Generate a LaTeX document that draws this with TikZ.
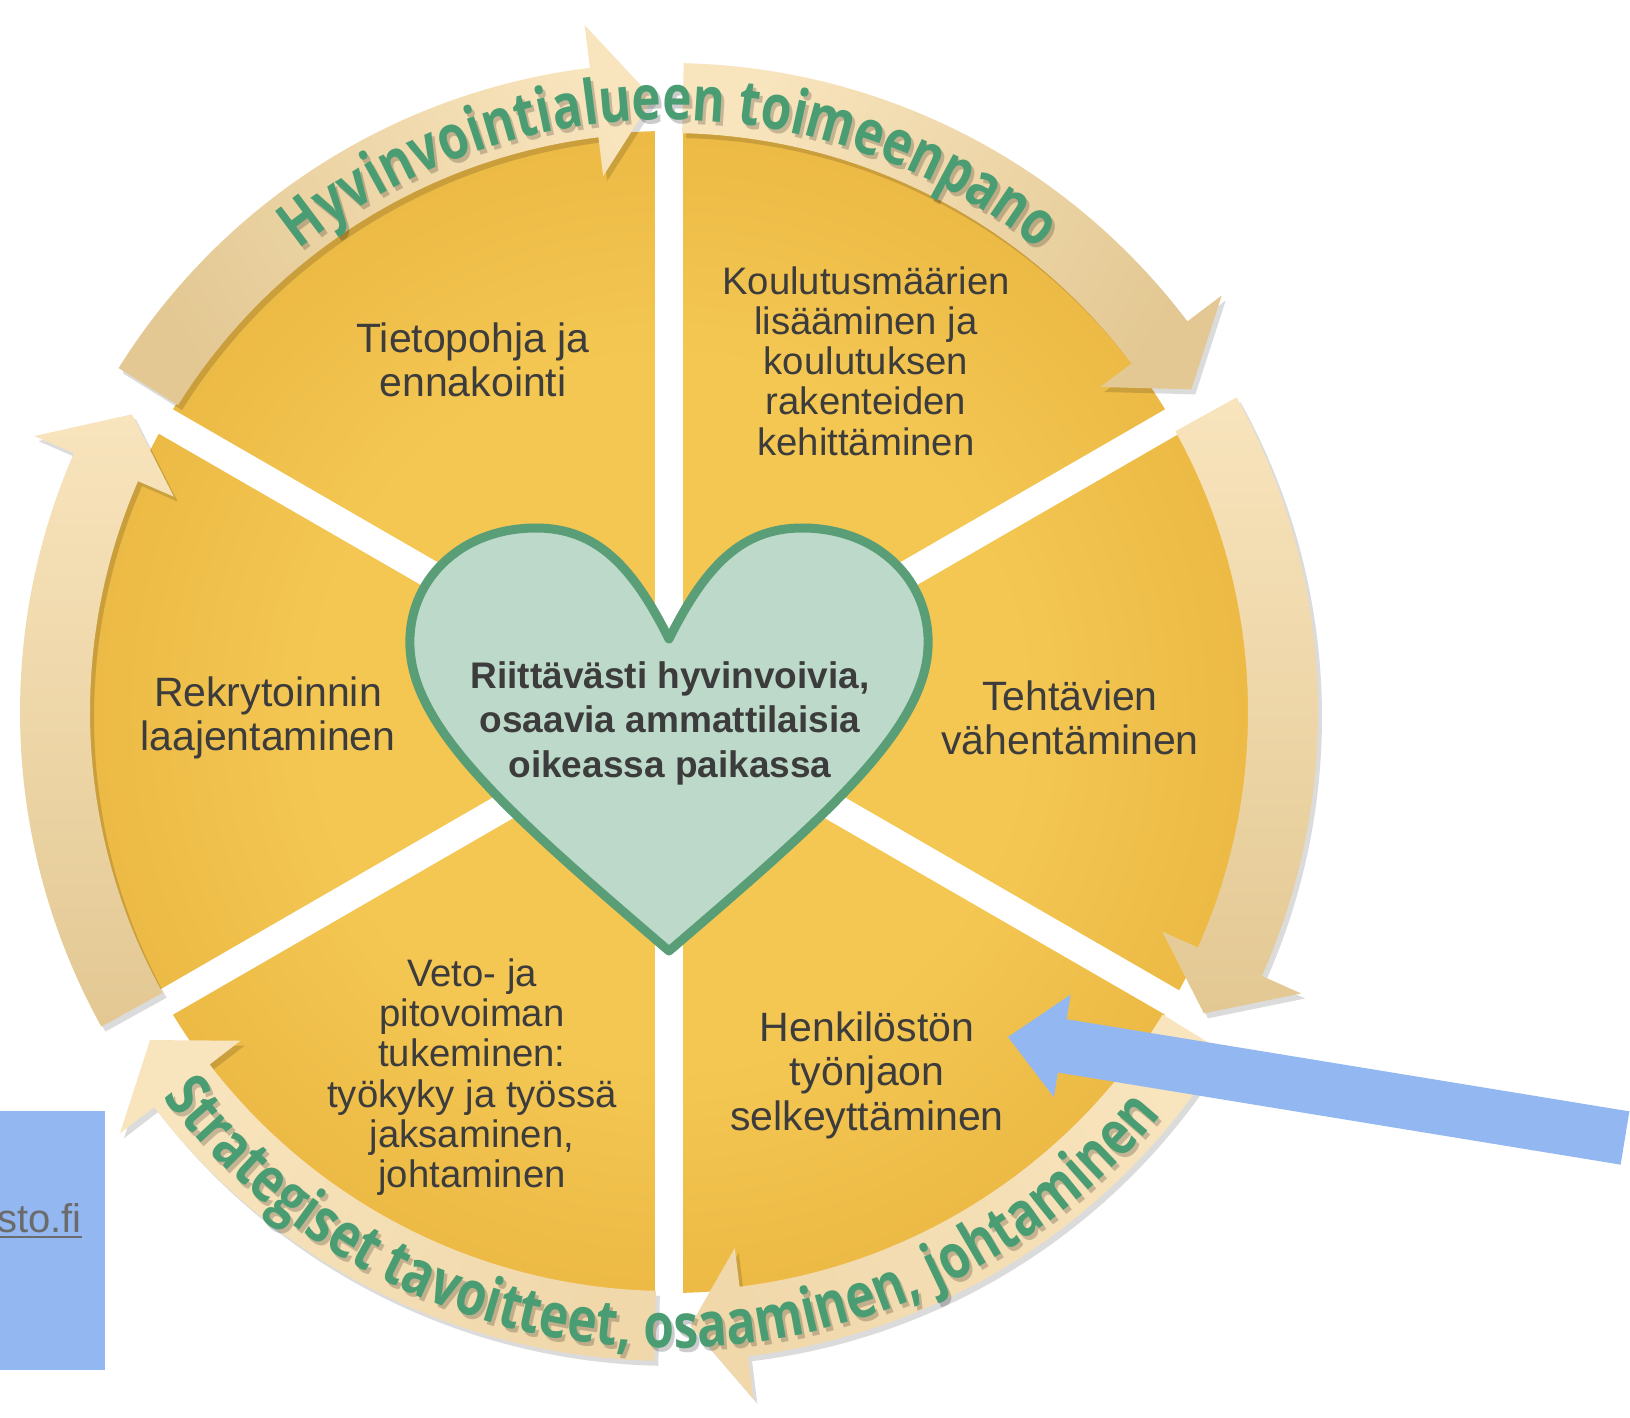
\documentclass[tikz,border=0pt]{standalone}
\usepackage{fontspec}
\setmainfont{Liberation Sans}
\newfontfamily\arcfont[FakeStretch=0.8]{Open Sans}
\usetikzlibrary{decorations.text,calc}
\definecolor{wedgein}{HTML}{F4C753}
\definecolor{wedgeout}{HTML}{ECBA45}
\definecolor{bandlight}{HTML}{F8E4BD}
\definecolor{bandmid}{HTML}{F0D8AB}
\definecolor{banddark}{HTML}{E3C893}
\definecolor{arcgreen}{HTML}{4A9D72}
\definecolor{heartfill}{HTML}{BDD9C9}
\definecolor{heartline}{HTML}{5A9E77}
\definecolor{txt}{HTML}{3C3C3C}
\definecolor{bluearrow}{HTML}{93B7F1}
\definecolor{linkgray}{HTML}{6B6B6B}
\pgfdeclareradialshading{wedgeshade}{\pgfpoint{0bp}{0bp}}{color(0bp)=(wedgein); color(15bp)=(wedgein); color(25bp)=(wedgeout); color(50bp)=(wedgeout)}
\def\bRin{579}
\def\bRout{649}
\def\bRwin{540}
\def\bRwout{692}
\def\bRmid{614}
\newcommand\bandarrow[6]{%
  \fill[black, opacity=0.14, shift={(4,-5)}] (#1:\bRout) arc[start angle=#1, end angle=#2, radius=\bRout] -- (#2:\bRwout) -- (#3:\bRmid) -- (#2:\bRwin) -- (#2:\bRin) arc[start angle=#2, end angle=#1, radius=\bRin] -- cycle;
  \shade[top color=#4, bottom color=#5, shading angle=#6] (#1:\bRout) arc[start angle=#1, end angle=#2, radius=\bRout] -- (#2:\bRwout) -- (#3:\bRmid) -- (#2:\bRwin) -- (#2:\bRin) arc[start angle=#2, end angle=#1, radius=\bRin] -- cycle;
}
\tikzset{
  wedgetext/.style={font=\fontsize{41}{44.5}\selectfont, text=txt, align=center, inner sep=0},
  wedgetextsmall/.style={font=\fontsize{38.3}{40.3}\selectfont, text=txt, align=center, inner sep=0},
  arctext/.style={decorate, decoration={text along path, text align=center, text color=#1}},
}
\begin{document}
\begin{tikzpicture}[x=1pt,y=1pt]
\useasboundingbox (-669,-706) rectangle (961,712);
% pie
\shade[shading=wedgeshade] (0,0) circle[radius=581];
\draw[white, line width=28] (90:600) -- (270:600);
\draw[white, line width=28] (30:600) -- (210:600);
\draw[white, line width=28] (150:600) -- (330:600);
% ring arrows
\bandarrow{148}{97}{91.5}{banddark}{bandlight}{119.8}
\bandarrow{88.7}{37}{31.7}{bandlight}{banddark}{60.2}
\bandarrow{29}{-24}{-29.4}{bandlight}{banddark}{0}
\bandarrow{-31.5}{-83}{-88}{bandlight}{bandmid}{-60}
\bandarrow{268.7}{217.5}{212.3}{bandmid}{bandlight}{240.5}
\bandarrow{209}{156.5}{151}{banddark}{bandlight}{180}
% ring texts (shadow + text)
\begin{scope}[opacity=0.2]
\path[arctext=black, decoration={text={|\arcfont\bfseries\fontsize{62}{62}\selectfont|Hyvinvointialueen toimeenpano}}, shift={(3,-4)}] (165:592) arc[start angle=165, end angle=15, radius=592];
\path[arctext=black, decoration={text={|\arcfont\bfseries\fontsize{62}{62}\selectfont|Strategiset tavoitteet, osaaminen, johtaminen}}, shift={(3,-4)}] (189:636) arc[start angle=189, end angle=349, radius=636];
\end{scope}
\path[arctext=arcgreen, decoration={text={|\arcfont\bfseries\fontsize{62}{62}\selectfont|Hyvinvointialueen toimeenpano}}] (165:592) arc[start angle=165, end angle=15, radius=592];
\path[arctext=arcgreen, decoration={text={|\arcfont\bfseries\fontsize{62}{62}\selectfont|Strategiset tavoitteet, osaaminen, johtaminen}}] (189:636) arc[start angle=189, end angle=349, radius=636];
% heart
\draw[heartline, fill=heartfill, line width=9, line join=round] (0,73) .. controls (-36,145) and (-72,184) .. (-133,184) .. controls (-210,184) and (-262,130) .. (-259,65) .. controls (-256,-20) and (-150,-110) .. (0,-239) .. controls (150,-110) and (256,-20) .. (259,65) .. controls (262,130) and (210,184) .. (133,184) .. controls (72,184) and (36,145) .. (0,73) -- cycle;
\node[font=\bfseries\fontsize{37}{44.5}\selectfont, text=txt, align=center, inner sep=0] (heartText) at (1,-11) {Riittävästi hyvinvoivia,\\osaavia ammattilaisia\\oikeassa paikassa};
% wedge texts
\node[wedgetext] (tieto) at (-196,352) {Tietopohja ja\\ennakointi};
\node[wedgetextsmall] (koulu) at (197,351) {Koulutusmäärien\\lisääminen ja\\koulutuksen\\rakenteiden\\kehittäminen};
\node[wedgetext] (rekry) at (-401,-6) {Rekrytoinnin\\laajentaminen};
\node[wedgetext] (tehta) at (401,-6) {Tehtävien\\vähentäminen};
\node[wedgetext] (henki) at (198,-363) {Henkilöstön\\työnjaon\\selkeyttäminen};
\node[wedgetextsmall] (veto) at (-197,-365) {Veto- ja\\pitovoiman\\tukeminen:\\työkyky ja työssä\\jaksaminen,\\johtaminen};
% blue pointer arrow
\coordinate (bt) at (339,-325);
\coordinate (be) at (956,-426);
\coordinate (hb) at ($(bt)!55pt!(be)$);
\fill[bluearrow] (bt) -- ($(hb)!52pt!90:(be)$) -- ($(hb)!27pt!90:(be)$) -- ($(be)!27pt!-90:(hb)$) -- ($(be)!27pt!90:(hb)$) -- ($(hb)!27pt!-90:(be)$) -- ($(hb)!52pt!-90:(be)$) -- cycle;
% blue box with link fragment
\fill[bluearrow] (-669,-399) rectangle (-564,-658);
\node[anchor=base east, font=\fontsize{40}{48}\selectfont, text=linkgray, inner sep=0] (link) at (-587,-520) {sto.fi};
\draw[linkgray, line width=2.8] ([yshift=-5pt]link.base west) -- ([yshift=-5pt]link.base east);
\end{tikzpicture}
\end{document}
